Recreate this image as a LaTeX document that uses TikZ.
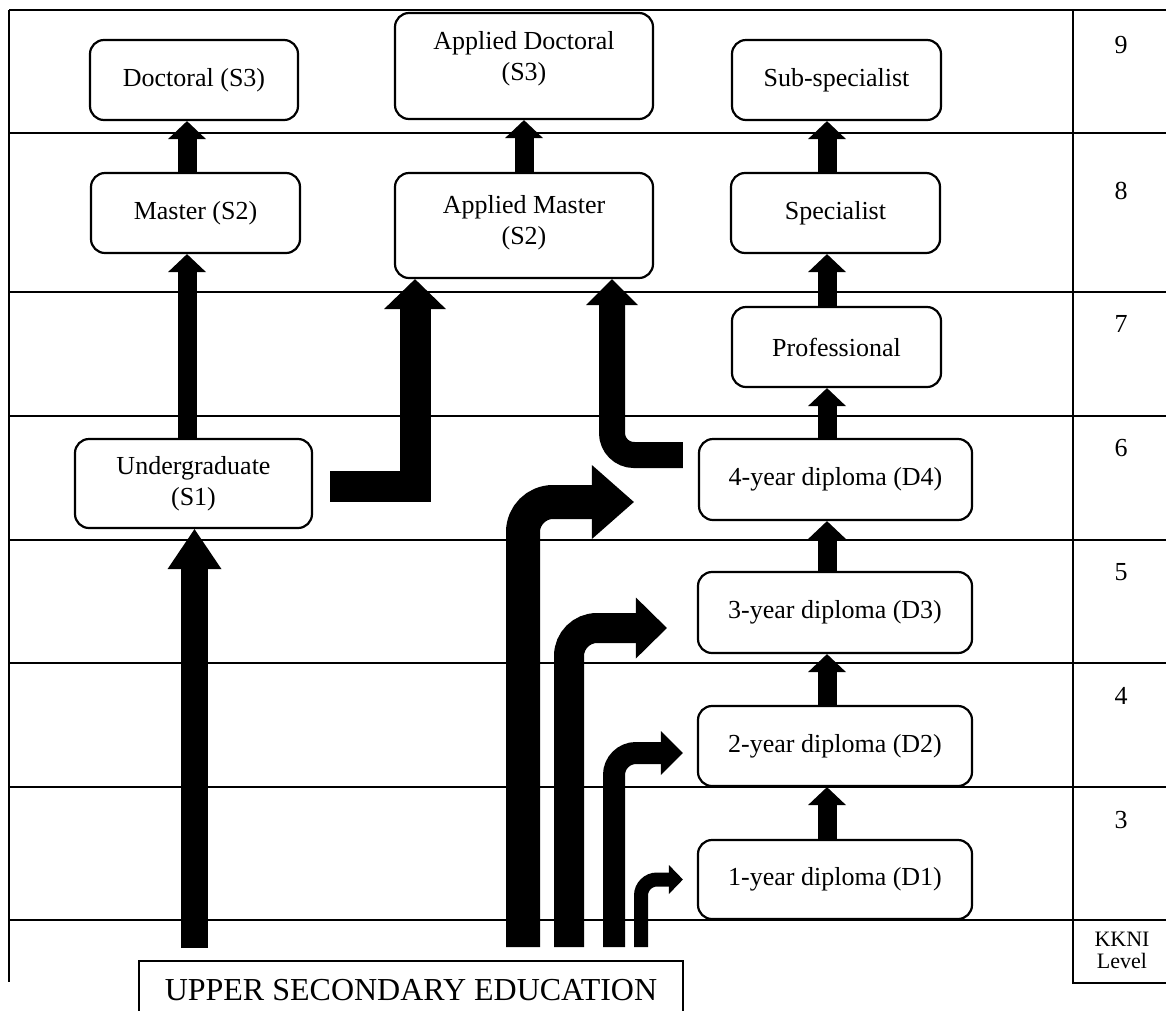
\documentclass[tikz,border=0pt]{standalone}
\usepackage{fontspec}
\setmainfont{Liberation Serif}
\usetikzlibrary{arrows.meta}
\begin{document}
\begin{tikzpicture}[x=1pt,y=-1pt,
  rule/.style={line width=2.2pt},
  qual/.style={draw, line width=2.2pt, rounded corners=14pt, align=center,
    inner sep=0pt, font=\fontsize{26}{31}\selectfont},
  lvl/.style={font=\fontsize{26}{31}\selectfont, inner sep=0pt},
  smallup/.style={line width=19pt, -{Triangle[length=18pt,width=38pt,line width=0pt]}},
]
\useasboundingbox (0,0) rectangle (1166,1010);

% level grid
\foreach \yy in {10,133,292,416,540,663,787,920}
  \draw[rule] (9,\yy) -- (1166,\yy);
\draw[rule] (9,10) -- (9,982);
\draw[rule] (1073,10) -- (1073,983) -- (1166,983);

% KKNI levels
\node[lvl] (l9) at (1121,45) {9};
\node[lvl] (l8) at (1121,191) {8};
\node[lvl] (l7) at (1121,324) {7};
\node[lvl] (l6) at (1121,448) {6};
\node[lvl] (l5) at (1121,572) {5};
\node[lvl] (l4) at (1121,696) {4};
\node[lvl] (l3) at (1121,820) {3};
\node[align=center, inner sep=0pt, font=\fontsize{22}{22}\selectfont] (kkni) at (1122,950) {KKNI\\Level};

% academic track
\node[qual, minimum width=208pt, minimum height=80pt] (doct) at (194,80) {Doctoral (S3)};
\node[qual, minimum width=209pt, minimum height=80pt] (master) at (195.5,213) {Master (S2)};
\node[qual, minimum width=237pt, minimum height=89pt] (ug) at (193.5,483.5) {Undergraduate\\(S1)};

% applied track
\node[qual, minimum width=258pt, minimum height=106pt, text depth=20pt] (adoct) at (524,66) {Applied Doctoral\\(S3)};
\node[qual, minimum width=258pt, minimum height=105pt, text depth=12pt] (amaster) at (524,225.5) {Applied Master\\(S2)};

% professional and vocational track
\node[qual, minimum width=209pt, minimum height=80pt] (subsp) at (836.5,80) {Sub-specialist};
\node[qual, minimum width=209pt, minimum height=80pt] (spec) at (835.5,213) {Specialist};
\node[qual, minimum width=209pt, minimum height=80pt] (prof) at (836.5,347) {Professional};
\node[qual, minimum width=273pt, minimum height=81pt] (d4) at (835.5,479.5) {4-year diploma (D4)};
\node[qual, minimum width=274pt, minimum height=81pt] (d3) at (835,612.5) {3-year diploma (D3)};
\node[qual, minimum width=274pt, minimum height=80pt] (d2) at (835,746) {2-year diploma (D2)};
\node[qual, minimum width=274pt, minimum height=79pt] (d1) at (835,879.5) {1-year diploma (D1)};

% entry level
\node[draw, line width=2.2pt, minimum width=544pt, inner xsep=0pt, inner ysep=18pt,
  anchor=north, font=\fontsize{32}{36}\selectfont] (ues) at (411,960) {UPPER SECONDARY EDUCATION};

% columns of the vertical arrows
\coordinate (xL) at (187,0);
\coordinate (xU) at (194.5,0);
\coordinate (xA) at (524,0);
\coordinate (xR) at (827,0);
\coordinate (xM1) at (415,0);
\coordinate (xM2) at (612,0);

% progression within each track
\draw[smallup] (master.north -| xL) -- (doct.south -| xL);
\draw[smallup] (ug.north -| xL) -- (master.south -| xL);
\draw[smallup] (amaster.north -| xA) -- (adoct.south -| xA);
\draw[smallup] (d1.north -| xR) -- (d2.south -| xR);
\draw[smallup] (d2.north -| xR) -- (d3.south -| xR);
\draw[smallup] (d3.north -| xR) -- (d4.south -| xR);
\draw[smallup] (d4.north -| xR) -- (prof.south -| xR);
\draw[smallup] (prof.north -| xR) -- (spec.south -| xR);
\draw[smallup] (spec.north -| xR) -- (subsp.south -| xR);

% from upper secondary into undergraduate
\draw[line width=27pt, -{Triangle[length=40pt,width=54pt,line width=0pt]}]
  ([yshift=12pt]ues.north -| xU) -- (ug.south -| xU);

% into applied master
\draw[line width=31pt, -{Triangle[length=30pt,width=62pt,line width=0pt]}]
  ([shift={(17pt,-2.5pt)}]ug.east) -| (amaster.south -| xM1);
\draw[line width=26pt, rounded corners=22pt, -{Triangle[length=26pt,width=52pt,line width=0pt]}]
  ([shift={(-15pt,24.5pt)}]d4.west) -| (amaster.south -| xM2);

% from upper secondary into the diplomas
\coordinate (sA) at (523,947);
\coordinate (sB) at (569,947);
\coordinate (sC) at (614,947);
\coordinate (sD) at (641,947);
\draw[line width=34pt, rounded corners=30pt, -{Triangle[length=42pt,width=74pt,line width=0pt]}]
  (sA) |- ([shift={(-64pt,-22.5pt)}]d4.west);
\draw[line width=30pt, rounded corners=28pt, -{Triangle[length=31pt,width=61pt,line width=0pt]}]
  (sB) |- ([shift={(-30pt,-15.5pt)}]d3.west);
\draw[line width=22pt, rounded corners=22pt, -{Triangle[length=22pt,width=44pt,line width=0pt]}]
  (sC) |- ([shift={(-14pt,-7pt)}]d2.west);
\draw[line width=14pt, rounded corners=16pt, -{Triangle[length=14pt,width=29pt,line width=0pt]}]
  (sD) |- ([shift={(-14pt,0pt)}]d1.west);
\end{tikzpicture}
\end{document}
